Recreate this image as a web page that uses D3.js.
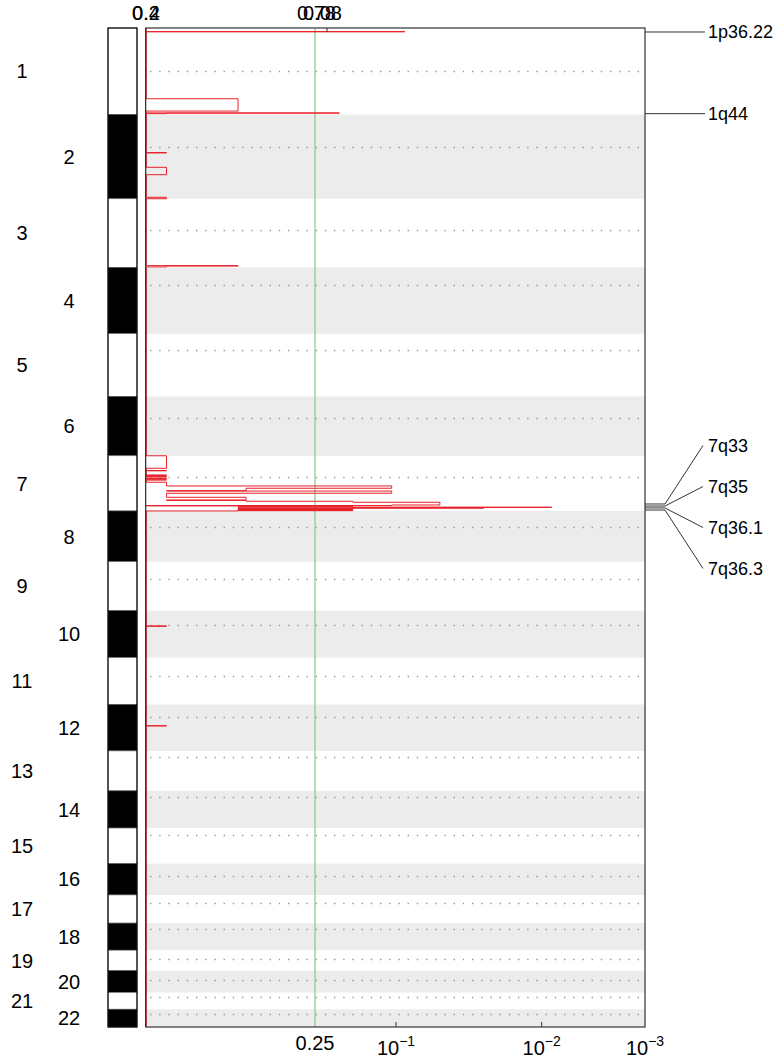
<!DOCTYPE html>
<html>
<head>
<meta charset="utf-8">
<script src="https://cdn.jsdelivr.net/npm/d3@7"></script>
<style>
  body { margin: 0; background: #fff; }
  svg { display: block; }
  text { font-family: Arial, "Liberation Sans", sans-serif; fill: #000; }
</style>
</head>
<body>
<svg id="chart" width="779" height="1058"></svg>
<script>
// chromosome sizes / centromeres in Mb
const chromosomes = ['1','2','3','4','5','6','7','8','9','10','11','12','13','14','15','16','17','18','19','20','21','22']
const chromLength = [249.25, 243.2, 198.0, 191.15, 180.9, 171.1, 159.1, 146.4, 141.2, 135.5, 135.0, 133.9, 115.2, 107.3, 102.5, 90.4, 81.2, 78.1, 59.1, 63.0, 48.1, 51.3]
const centromere = [125.0, 93.3, 91.0, 50.4, 48.4, 61.0, 59.9, 45.6, 49.0, 40.2, 53.7, 35.8, 17.9, 17.6, 19.0, 36.6, 24.0, 17.2, 26.5, 27.5, 13.2, 14.7]

// q-value segments: [chrom, start Mb, end Mb, q]
const segments = [
  [1, 10.3, 11.0, 0.087],
  [1, 204.0, 239.5, 0.47],
  [1, 244.8, 245.6, 0.19],
  [1, 245.6, 247.0, 0.845],
  [2, 110.0, 111.0, 0.845],
  [2, 152.5, 173.8, 0.845],
  [2, 239.0, 243.2, 0.845],
  [3, 192.8, 194.0, 0.47],
  [3, 194.0, 196.5, 0.845],
  [7, 0.0, 36.0, 0.845],
  [7, 42.5, 43.5, 0.845],
  [7, 55.5, 56.5, 0.845],
  [7, 58.5, 59.5, 0.845],
  [7, 64.0, 65.5, 0.845],
  [7, 69.0, 70.0, 0.845],
  [7, 76.4, 87.1, 0.845],
  [7, 87.1, 93.7, 0.105],
  [7, 93.7, 100.6, 0.44],
  [7, 100.6, 101.8, 0.845],
  [7, 101.8, 108.1, 0.105],
  [7, 108.1, 119.7, 0.845],
  [7, 119.7, 127.5, 0.44],
  [7, 127.5, 128.8, 0.845],
  [7, 128.8, 131.2, 0.44],
  [7, 131.2, 134.1, 0.163],
  [7, 134.1, 141.9, 0.05],
  [7, 141.9, 143.5, 0.105],
  [7, 144.5, 145.8, 0.47],
  [7, 145.8, 147.0, 0.163],
  [7, 147.0, 148.2, 0.47],
  [7, 148.2, 149.0, 0.008],
  [7, 149.0, 150.0, 0.163],
  [7, 150.0, 151.2, 0.025],
  [7, 151.2, 152.4, 0.47],
  [7, 152.4, 153.6, 0.163],
  [7, 153.6, 154.8, 0.47],
  [7, 154.8, 156.0, 0.163],
  [7, 156.0, 157.2, 0.47],
  [7, 157.2, 158.4, 0.163],
  [7, 158.4, 159.1, 0.47],
  [10, 44.0, 45.0, 0.845],
  [12, 61.0, 62.0, 0.845]
]

// labelled peaks
const peakLabels = ['1p36.22', '1q44', '7q33', '7q35', '7q36.1', '7q36.3']
const peakChrom = [1, 1, 7, 7, 7, 7]
const peakPos = [11.5, 247.0, 139.0, 145.0, 150.5, 156.5]

const qStops = [1, 0.25, 0.1, 0.01, 0.001]
const qTicks = [0.1, 0.01, 0.001]
const qThreshold = 0.25
const topLabels = [['0.2', '0.4'], ['0.78', '0.08']]

const svg = d3.select('#chart')
const pL = 146, pR = 645, pT = 28, pB = 1027

const offsets = [0, ...d3.cumsum(chromLength)]
const total = offsets[offsets.length - 1]

const y = d3.scaleLinear().domain([0, total]).range([pT, pB])
// q axis: log-like, piecewise on -log10(q)
const xt = d3.scaleLinear()
  .domain(qStops.map(q => -Math.log10(q)))
  .range([146, 315, 396, 541.7, 645])
const xq = q => xt(-Math.log10(q))

// grey bands for even chromosomes
svg.append('g').selectAll('rect')
  .data(chromosomes.filter((c, i) => i % 2 === 1))
  .join('rect')
  .attr('x', pL)
  .attr('width', pR - pL)
  .attr('y', c => y(offsets[+c - 1]))
  .attr('height', c => y(offsets[+c]) - y(offsets[+c - 1]))
  .attr('fill', '#ececec')

// centromere dotted lines
svg.append('g').selectAll('line')
  .data(chromosomes)
  .join('line')
  .attr('x1', pL + 4)
  .attr('x2', pR)
  .attr('y1', (c, i) => Math.round(y(offsets[i] + centromere[i])) + 0.5)
  .attr('y2', (c, i) => Math.round(y(offsets[i] + centromere[i])) + 0.5)
  .attr('stroke', '#999')
  .attr('stroke-width', 1.3)
  .attr('stroke-dasharray', '1.4 7.8')

// threshold line
svg.append('line')
  .attr('x1', xq(qThreshold)).attr('x2', xq(qThreshold))
  .attr('y1', pT).attr('y2', pB)
  .attr('stroke', '#8ccc8c')
  .attr('stroke-width', 1.3)

// q-value trace
const x0 = xq(1) + 0.3
const pts = [[x0, y(0)]]
segments.forEach((s, i) => {
  const a = offsets[s[0] - 1] + s[1]
  const b = offsets[s[0] - 1] + s[2]
  const prev = segments[i - 1]
  const prevB = prev ? offsets[prev[0] - 1] + prev[2] : -1
  if (Math.abs(prevB - a) > 1e-6) pts.push([x0, y(a)])
  pts.push([xq(s[3]), y(a)], [xq(s[3]), y(b)])
  const next = segments[i + 1]
  const nextA = next ? offsets[next[0] - 1] + next[1] : Infinity
  if (Math.abs(nextA - b) > 1e-6) pts.push([x0, y(b)])
})
pts.push([x0, y(total)])

svg.append('path')
  .attr('d', d3.line()(pts))
  .attr('fill', 'none')
  .attr('stroke', '#e8202a')
  .attr('stroke-width', 1)

// frame
svg.append('rect')
  .attr('x', pL - 0.3).attr('y', pT)
  .attr('width', pR - pL + 0.3).attr('height', pB - pT)
  .attr('fill', 'none')
  .attr('stroke', '#333')
  .attr('stroke-width', 1.2)
svg.append('line')
  .attr('x1', pL - 0.5).attr('x2', pL - 0.5)
  .attr('y1', pT).attr('y2', pB)
  .attr('stroke', '#4a2a2a')
  .attr('stroke-width', 1)

// ideogram
svg.append('g').selectAll('rect')
  .data(chromosomes)
  .join('rect')
  .attr('x', 108)
  .attr('width', 29)
  .attr('y', (c, i) => y(offsets[i]))
  .attr('height', (c, i) => y(offsets[i + 1]) - y(offsets[i]))
  .attr('fill', (c, i) => i % 2 ? '#000' : '#fff')
  .attr('stroke', '#666')
  .attr('stroke-width', 0.6)
svg.append('rect')
  .attr('x', 108).attr('y', pT)
  .attr('width', 29).attr('height', pB - pT)
  .attr('fill', 'none').attr('stroke', '#000').attr('stroke-width', 1.2)

// chromosome labels
svg.append('g').selectAll('text')
  .data(chromosomes)
  .join('text')
  .attr('x', (c, i) => i % 2 ? 69 : 22)
  .attr('y', (c, i) => y(offsets[i] + chromLength[i] / 2))
  .attr('dy', '0.36em')
  .attr('text-anchor', 'middle')
  .attr('font-size', 20)
  .text(c => c)

// bottom axis
svg.append('g').selectAll('line')
  .data(qTicks.slice(0, 2))
  .join('line')
  .attr('x1', d => xq(d)).attr('x2', d => xq(d))
  .attr('y1', pB).attr('y2', pB - 5)
  .attr('stroke', '#333')

svg.append('text')
  .attr('x', xq(qThreshold)).attr('y', 1050)
  .attr('text-anchor', 'middle').attr('font-size', 20)
  .text('0.25')

qTicks.forEach(q => {
  const t = svg.append('text')
    .attr('x', xq(q)).attr('y', 1055)
    .attr('text-anchor', 'middle').attr('font-size', 20)
  t.append('tspan').text('10')
  t.append('tspan').attr('dy', -9).attr('font-size', 14)
    .text('\u2212' + Math.round(-Math.log10(q)))
})

// top axis (labels overlap as in the source figure)
svg.append('line')
  .attr('x1', xq(qThreshold) + 12).attr('x2', xq(qThreshold) + 12)
  .attr('y1', pT).attr('y2', pT + 4)
  .attr('stroke', '#333')
topLabels[0].forEach(s => {
  svg.append('text').attr('x', xq(1)).attr('y', 20)
    .attr('text-anchor', 'middle').attr('font-size', 20).text(s)
})
topLabels[1].forEach((s, i) => {
  svg.append('text').attr('x', xq(qThreshold) - 18 + i * 6).attr('y', 20)
    .attr('font-size', 20).text(s)
})

// peak labels
const peakY = peakLabels.map((p, i) => y(offsets[peakChrom[i] - 1] + peakPos[i]))
const group7 = peakLabels.map((p, i) => i).filter(i => peakChrom[i] === 7)
const mid7 = d3.mean(group7, i => peakY[i])
const labelY = peakY.map((v, i) => {
  const k = group7.indexOf(i)
  return k < 0 ? v : mid7 + (k - (group7.length - 1) / 2) * 41
})

peakLabels.forEach((p, i) => {
  const fan = group7.includes(i)
  const pathPts = fan
    ? [[pR, peakY[i]], [665, peakY[i]], [703, labelY[i]]]
    : [[pR, peakY[i]], [705, peakY[i]]]
  svg.append('path')
    .attr('d', d3.line()(pathPts))
    .attr('fill', 'none')
    .attr('stroke', '#333')
    .attr('stroke-width', 1)
  svg.append('text')
    .attr('x', 708)
    .attr('y', labelY[i])
    .attr('dy', '0.36em')
    .attr('font-size', 18)
    .text(p)
})
</script>
</body>
</html>
